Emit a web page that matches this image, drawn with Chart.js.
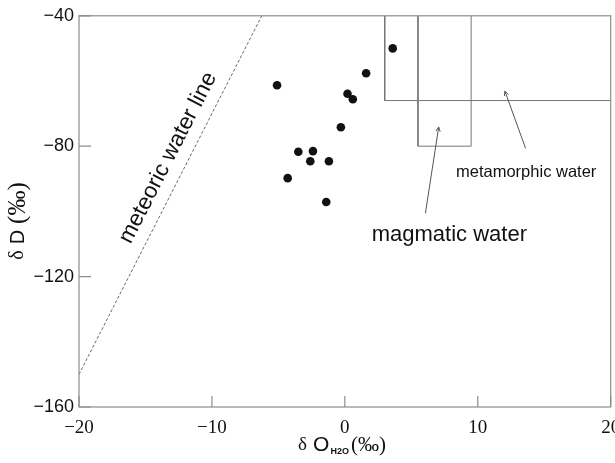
<!DOCTYPE html>
<html>
<head>
<meta charset="utf-8">
<script src="https://cdn.jsdelivr.net/npm/chart.js@4.4.0/dist/chart.umd.min.js"></script>
<style>
  html, body { margin: 0; padding: 0; background: #fff; }
  #wrap { width: 615px; height: 463px; }
</style>
</head>
<body>
<div id="wrap"><canvas id="chart" width="615" height="463"></canvas></div>
<script>
// amostras: δ18O (H2O) x δD
var sampleO = [-5.1, -3.5, -2.4, -2.6, -4.3, 3.6, 1.6, 0.2, 0.6, -0.3, -1.2, -1.4];
var sampleD = [-61.3, -81.7, -81.5, -84.6, -89.8, -50.0, -57.6, -63.9, -65.6, -74.2, -84.6, -97.1];

// linha da água meteórica (δD = 8 δ18O + 10)
var meteoricO = [-20, -6.25];
var meteoricD = [-150, -40];

// campos da água magmática e metamórfica
var magmaticO = [5.5, 5.5, 9.5, 9.5];
var magmaticD = [-40, -80, -80, -40];
var metamorphicO = [3, 3, 20];
var metamorphicD = [-40, -66, -66];

var xTicks = [-20, -10, 0, 10, 20];
var yTicks = [-160, -120, -80, -40];

function pairs(xs, ys) {
  return xs.map(function(x, i) { return { x: x, y: ys[i] }; });
}

function fmt(v) {
  return (v < 0 ? "\u2212" : "") + Math.abs(v);
}

// moldura, ticks para dentro, títulos dos eixos e anotações
var extras = {
  id: "extras",
  afterDraw: function(chart) {
    var ctx = chart.ctx;
    var a = chart.chartArea;
    var xs = chart.scales.x, ys = chart.scales.y;
    ctx.save();

    // moldura
    ctx.strokeStyle = "#8c8c8c";
    ctx.lineWidth = 1.2;
    ctx.strokeRect(a.left, a.top, a.right - a.left, a.bottom - a.top);

    // ticks internos
    ctx.beginPath();
    xTicks.forEach(function(v) {
      var px = xs.getPixelForValue(v);
      ctx.moveTo(px, a.bottom);
      ctx.lineTo(px, a.bottom - 11);
    });
    yTicks.forEach(function(v) {
      var py = ys.getPixelForValue(v);
      ctx.moveTo(a.left, py);
      ctx.lineTo(a.left + 12, py);
    });
    ctx.stroke();

    // textos
    ctx.fillStyle = "#111";
    ctx.textBaseline = "middle";

    function pieces(list, x, y) {
      var total = 0;
      list.forEach(function(p) { ctx.font = p.font; total += ctx.measureText(p.t).width + (p.gap || 0); });
      var cx = x - total / 2;
      list.forEach(function(p) {
        ctx.font = p.font;
        ctx.textAlign = "left";
        ctx.fillText(p.t, cx + (p.gap || 0), y + (p.dy || 0));
        cx += ctx.measureText(p.t).width + (p.gap || 0);
      });
    }

    // título do eixo y
    ctx.save();
    ctx.translate(18, 221);
    ctx.rotate(-Math.PI / 2);
    pieces([
      { t: "\u03b4", font: "20px 'Liberation Serif'" },
      { t: "D", font: "20px 'Liberation Sans'", gap: 6 },
      { t: "(\u2030)", font: "25px 'Liberation Serif'", gap: 6 }
    ], 0, 0);
    ctx.restore();

    // título do eixo x
    pieces([
      { t: "\u03b4", font: "19px 'Liberation Serif'" },
      { t: "O", font: "21px 'Liberation Sans'", gap: 6 },
      { t: "H2O", font: "bold 9px 'Liberation Sans'", gap: 1, dy: 7 },
      { t: "(\u2030)", font: "21px 'Liberation Serif'", gap: 2 }
    ], 342, 445);

    // anotações
    ctx.textAlign = "center";
    ctx.font = "22px 'Liberation Sans'";
    ctx.fillText("magmatic water", xs.getPixelForValue(7.86), ys.getPixelForValue(-107.1));
    ctx.font = "16.5px 'Liberation Sans'";
    ctx.fillText("metamorphic water", xs.getPixelForValue(13.64), ys.getPixelForValue(-88.2));

    ctx.save();
    ctx.translate(xs.getPixelForValue(-13.3), ys.getPixelForValue(-83.6));
    ctx.rotate(-62.9 * Math.PI / 180);
    ctx.font = "22.5px 'Liberation Sans'";
    ctx.fillText("meteoric water line", 0, 0);
    ctx.restore();

    // setas
    function arrow(x0, y0, x1, y1) {
      var p0x = xs.getPixelForValue(x0), p0y = ys.getPixelForValue(y0);
      var p1x = xs.getPixelForValue(x1), p1y = ys.getPixelForValue(y1);
      var ang = Math.atan2(p1y - p0y, p1x - p0x);
      ctx.strokeStyle = "#555";
      ctx.lineWidth = 1;
      ctx.beginPath();
      ctx.moveTo(p0x, p0y);
      ctx.lineTo(p1x, p1y);
      ctx.moveTo(p1x - 5 * Math.cos(ang - 0.45), p1y - 5 * Math.sin(ang - 0.45));
      ctx.lineTo(p1x, p1y);
      ctx.lineTo(p1x - 5 * Math.cos(ang + 0.45), p1y - 5 * Math.sin(ang + 0.45));
      ctx.stroke();
    }
    arrow(6.06, -100.6, 7.06, -74.1);
    arrow(13.6, -80.7, 12.04, -63.1);

    ctx.restore();
  }
};

new Chart(document.getElementById("chart"), {
  type: "scatter",
  data: {
    datasets: [
      {
        data: pairs(sampleO, sampleD),
        pointRadius: 4.3,
        backgroundColor: "#111",
        borderWidth: 0
      },
      {
        data: pairs(meteoricO, meteoricD),
        showLine: true,
        pointRadius: 0,
        borderColor: "#444",
        borderWidth: 0.8,
        borderDash: [3, 2]
      },
      {
        data: pairs(magmaticO, magmaticD),
        showLine: true,
        pointRadius: 0,
        borderColor: "#777",
        borderWidth: 1
      },
      {
        data: pairs(metamorphicO, metamorphicD),
        showLine: true,
        pointRadius: 0,
        borderColor: "#777",
        borderWidth: 1
      }
    ]
  },
  options: {
    responsive: false,
    animation: false,
    layout: { padding: { top: 15, right: 3, left: 0, bottom: 0 } },
    plugins: { legend: { display: false }, tooltip: { enabled: false } },
    scales: {
      x: {
        type: "linear",
        min: -20,
        max: 20,
        afterBuildTicks: function(s) { s.ticks = xTicks.map(function(v) { return { value: v }; }); },
        afterFit: function(s) { s.height = 56; s.paddingLeft = 0; s.paddingRight = 0; },
        grid: { display: false, drawTicks: false },
        border: { display: false },
        ticks: {
          padding: 10,
          color: "#111",
          font: { family: "'Liberation Serif'", size: 19 },
          callback: fmt
        }
      },
      y: {
        type: "linear",
        min: -160,
        max: -40,
        afterBuildTicks: function(s) { s.ticks = yTicks.map(function(v) { return { value: v }; }); },
        afterFit: function(s) { s.width = 79; },
        grid: { display: false, drawTicks: false },
        border: { display: false },
        ticks: {
          padding: 5,
          color: "#111",
          font: { family: "'Liberation Sans'", size: 18 },
          callback: fmt
        }
      }
    }
  },
  plugins: [extras]
});
</script>
</body>
</html>
